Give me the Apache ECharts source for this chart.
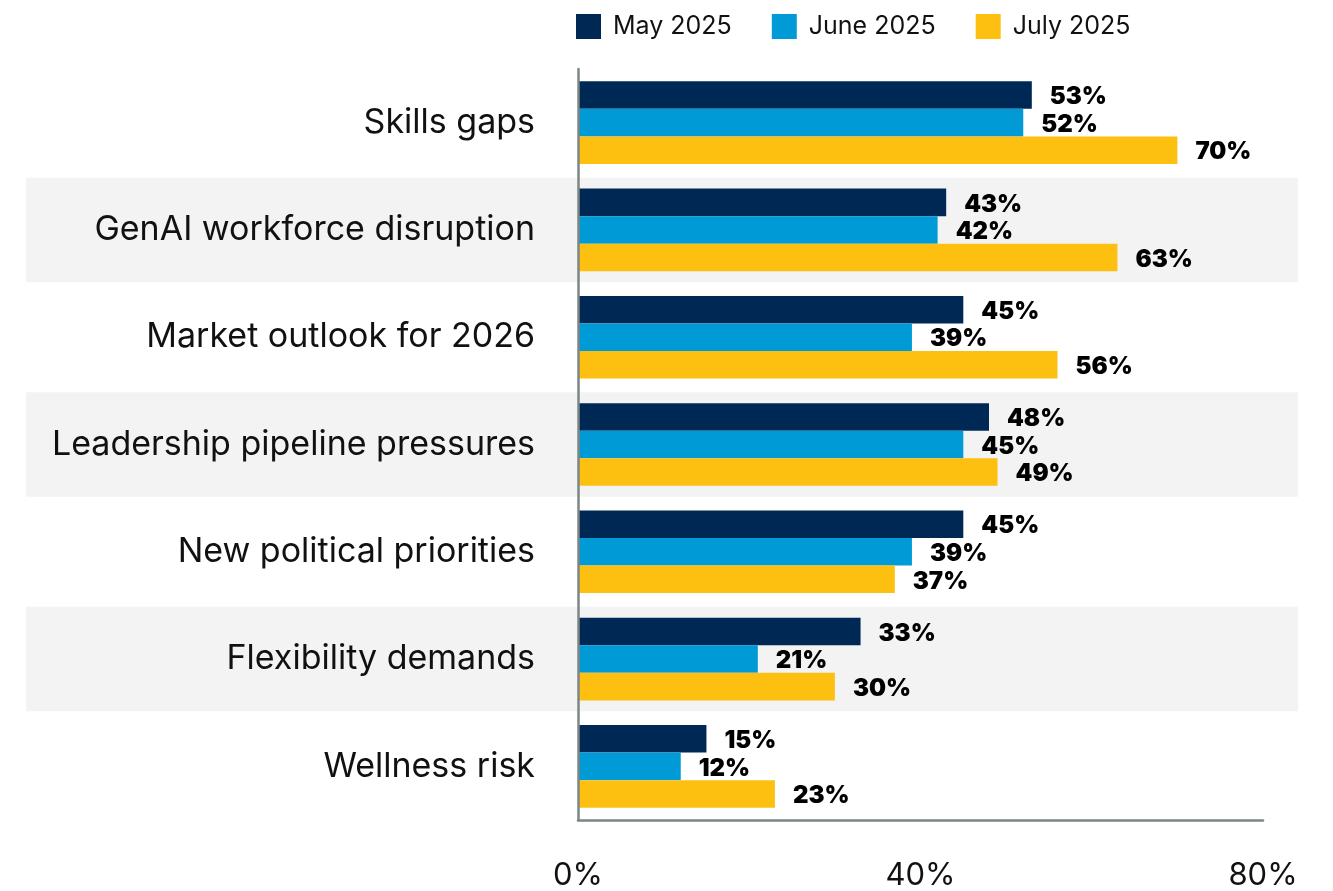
<!DOCTYPE html>
<html>
<head>
<meta charset="utf-8">
<script src="https://cdn.jsdelivr.net/npm/echarts@6/dist/echarts.min.js"></script>
<style>
  html, body { margin: 0; padding: 0; background: #ffffff; }
  #chart { width: 1333px; height: 891px; }
</style>
</head>
<body>
<div id="chart"></div>
<script>
// Workforce concerns by survey month
const categories = [
  'Skills gaps',
  'GenAI workforce disruption',
  'Market outlook for 2026',
  'Leadership pipeline pressures',
  'New political priorities',
  'Flexibility demands',
  'Wellness risk'
];
const seriesNames = ['May 2025', 'June 2025', 'July 2025'];
const may2025 = [53, 43, 45, 48, 45, 33, 15];
const june2025 = [52, 42, 39, 45, 39, 21, 12];
const july2025 = [70, 63, 56, 49, 37, 30, 23];
const xTicks = [0, 40, 80];
// alternate rows get a light grey band
const bandRows = [null, 1, null, 1, null, 1, null];

const colors = ['#002855', '#009bd6', '#fdc010'];
const FONT = 'Inter, "Noto Sans", sans-serif';
const AXIS_GREY = '#7e8684';

const chart = echarts.init(document.getElementById('chart'), null, { renderer: 'canvas' });

function barSeries(name, data, color) {
  return {
    name: name,
    type: 'bar',
    xAxisIndex: 1,
    yAxisIndex: 1,
    data: data,
    barGap: '0%',
    barCategoryGap: '23%',
    itemStyle: { color: color },
    z: 3,
    label: {
      show: true,
      position: 'right',
      distance: 18,
      offset: [0, 2],
      formatter: '{c}%',
      fontFamily: FONT,
      fontWeight: 900,
      fontSize: 24,
      color: '#000000'
    }
  };
}

chart.setOption({
  animation: false,
  backgroundColor: '#ffffff',
  legend: {
    data: seriesNames,
    left: 576,
    top: 14,
    padding: 0,
    icon: 'rect',
    itemWidth: 25,
    itemHeight: 25,
    itemGap: 40,
    textStyle: {
      fontFamily: FONT,
      fontSize: 25,
      color: '#111111',
      padding: [3, 0, 0, 7]
    }
  },
  grid: [
    // full-width band area behind the rows
    { left: 26, right: 35, top: 69, bottom: 71, containLabel: false },
    // plotting area
    { left: 578, right: 70, top: 69, bottom: 71, containLabel: false }
  ],
  xAxis: [
    { gridIndex: 0, type: 'value', min: 0, max: 1, show: false },
    {
      gridIndex: 1,
      type: 'value',
      min: 0,
      max: 80,
      interval: 40,
      z: 5,
      axisLine: { show: true, lineStyle: { color: AXIS_GREY, width: 2.5 } },
      axisTick: { show: false },
      splitLine: { show: false },
      axisLabel: {
        margin: 40,
        fontFamily: FONT,
        fontSize: 31,
        color: '#111111',
        formatter: function (v) { return xTicks.indexOf(v) >= 0 ? v + '%' : ''; }
      }
    }
  ],
  yAxis: [
    { gridIndex: 0, type: 'category', data: categories, inverse: true, show: false },
    {
      gridIndex: 1,
      type: 'category',
      data: categories,
      inverse: true,
      z: 5,
      axisLine: { show: true, lineStyle: { color: AXIS_GREY, width: 2.5 } },
      axisTick: { show: false },
      splitLine: { show: false },
      axisLabel: {
        margin: 43,
        fontFamily: FONT,
        fontSize: 34,
        color: '#111111',
        padding: [5, 0, 0, 0]
      }
    }
  ],
  series: [
    {
      name: 'rowBands',
      type: 'bar',
      xAxisIndex: 0,
      yAxisIndex: 0,
      data: bandRows,
      barCategoryGap: '2.5%',
      itemStyle: { color: '#f3f3f3' },
      silent: true,
      z: -1
    },
    barSeries(seriesNames[0], may2025, colors[0]),
    barSeries(seriesNames[1], june2025, colors[1]),
    barSeries(seriesNames[2], july2025, colors[2])
  ]
});
</script>
</body>
</html>
